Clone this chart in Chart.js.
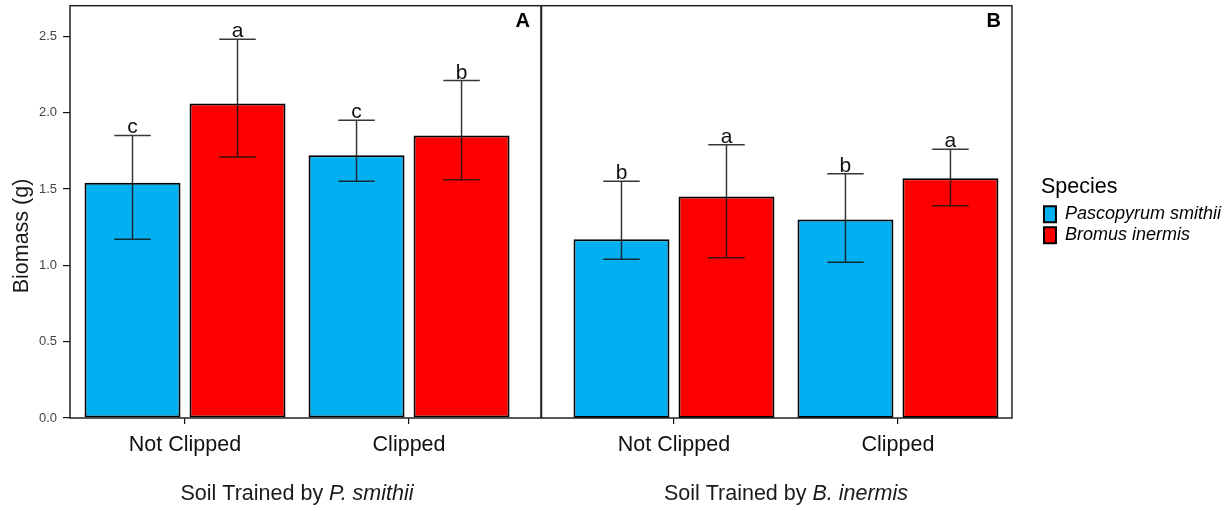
<!DOCTYPE html>
<html>
<head>
<meta charset="utf-8">
<title>Biomass by soil training</title>
<script src="https://cdn.jsdelivr.net/npm/chart.js@4.4.1/dist/chart.umd.min.js"></script>
<style>
  body { margin: 0; background: #fff; }
  #wrap { position: relative; width: 1231px; height: 511px; overflow: hidden; }
  #wrap canvas { position: absolute; top: 0; }
  #chartA { left: 0; }
  #chartB { left: 540px; }
</style>
</head>
<body>
<div id="wrap">
  <canvas id="chartA" width="542" height="511"></canvas>
  <canvas id="chartB" width="691" height="511"></canvas>
</div>
<script>
// ---- data ----
const categories = ['Not Clipped', 'Clipped'];
const speciesNames = ['Pascopyrum smithii', 'Bromus inermis'];
const speciesColors = ['#00B0F0', '#FF0000'];
const yTicks = [0, 0.5, 1.0, 1.5, 2.0, 2.5];
const yMax = 2.7;

// panel A: soil trained by P. smithii
const aSmithiiMean = [1.54, 1.72];
const aSmithiiHigh = [1.85, 1.95];
const aSmithiiLow = [1.17, 1.55];
const aSmithiiLetters = ['c', 'c'];
const aBromusMean = [2.06, 1.85];
const aBromusHigh = [2.48, 2.21];
const aBromusLow = [1.71, 1.56];
const aBromusLetters = ['a', 'b'];

// panel B: soil trained by B. inermis
const bSmithiiMean = [1.17, 1.30];
const bSmithiiHigh = [1.55, 1.60];
const bSmithiiLow = [1.04, 1.02];
const bSmithiiLetters = ['b', 'b'];
const bBromusMean = [1.45, 1.57];
const bBromusHigh = [1.79, 1.76];
const bBromusLow = [1.05, 1.39];
const bBromusLetters = ['a', 'a'];

const FONT = '"Liberation Sans", Arial, Helvetica, sans-serif';
Chart.defaults.font.family = FONT;

const panels = {
  chartA: {
    tag: 'A', soil: 'Soil Trained by ', soilItalic: 'P. smithii', yTitle: 'Biomass (g)',
    series: [
      { mean: aSmithiiMean, high: aSmithiiHigh, low: aSmithiiLow, letters: aSmithiiLetters },
      { mean: aBromusMean, high: aBromusHigh, low: aBromusLow, letters: aBromusLetters }
    ]
  },
  chartB: {
    tag: 'B', soil: 'Soil Trained by ', soilItalic: 'B. inermis', yTitle: null,
    series: [
      { mean: bSmithiiMean, high: bSmithiiHigh, low: bSmithiiLow, letters: bSmithiiLetters },
      { mean: bBromusMean, high: bBromusHigh, low: bBromusLow, letters: bBromusLetters }
    ]
  }
};

// error bars, letters, panel frame, tag and titles
const panelDeco = {
  id: 'panelDeco',
  afterDatasetsDraw(chart) {
    const p = panels[chart.canvas.id];
    const ctx = chart.ctx;
    const area = chart.chartArea;
    const ys = chart.scales.y;
    ctx.save();
    p.series.forEach((s, k) => {
      const meta = chart.getDatasetMeta(k);
      meta.data.forEach((bar, j) => {
        const cx = bar.x;
        const yHi = ys.getPixelForValue(s.high[j]);
        const yLo = ys.getPixelForValue(s.low[j]);
        const half = bar.width * 0.19;
        ctx.strokeStyle = 'rgba(20,20,20,0.85)';
        ctx.lineWidth = 1.5;
        ctx.beginPath();
        ctx.moveTo(cx, yHi); ctx.lineTo(cx, yLo);
        ctx.moveTo(cx - half, yHi); ctx.lineTo(cx + half, yHi);
        ctx.moveTo(cx - half, yLo); ctx.lineTo(cx + half, yLo);
        ctx.stroke();
        ctx.fillStyle = '#111';
        ctx.font = '21px ' + FONT;
        ctx.textAlign = 'center';
        ctx.textBaseline = 'alphabetic';
        ctx.fillText(s.letters[j], cx, yHi - 2);
      });
    });
    // frame
    ctx.strokeStyle = '#222';
    ctx.lineWidth = 1.5;
    ctx.strokeRect(area.left, area.top, area.right - area.left, area.bottom - area.top);
    // panel tag
    ctx.fillStyle = '#000';
    ctx.font = 'bold 20px ' + FONT;
    ctx.textAlign = 'right';
    ctx.fillText(p.tag, area.right - 11, area.top + 21.5);
    ctx.restore();
  },
  afterDraw(chart) {
    const p = panels[chart.canvas.id];
    const ctx = chart.ctx;
    const xs = chart.scales.x;
    const mid = (xs.getPixelForValue(1) + xs.getPixelForValue(categories.length)) / 2;
    const ty = chart.chartArea.bottom + 76;
    ctx.save();
    ctx.fillStyle = '#1a1a1a';
    ctx.textBaseline = 'middle';
    ctx.textAlign = 'left';
    const normal = '21.5px ' + FONT;
    const italic = 'italic 21.5px ' + FONT;
    ctx.font = normal;
    const w1 = ctx.measureText(p.soil).width;
    ctx.font = italic;
    const w2 = ctx.measureText(p.soilItalic).width;
    const x0 = mid - (w1 + w2) / 2;
    ctx.font = normal;
    ctx.fillText(p.soil, x0, ty);
    ctx.font = italic;
    ctx.fillText(p.soilItalic, x0 + w1, ty);
    if (p.yTitle) {
      ctx.translate(22, 236);
      ctx.rotate(-Math.PI / 2);
      ctx.font = normal;
      ctx.textAlign = 'center';
      ctx.fillText(p.yTitle, 0, 0);
    }
    ctx.restore();
  }
};

function makePanel(id, xMin, xMax, isFirst) {
  const p = panels[id];
  // panel B keeps the same y range but hides the axis; its width only spaces the legend
  const yScale = isFirst ? {
    min: 0, max: yMax, bounds: 'data',
    afterBuildTicks: s => { s.ticks = yTicks.map(v => ({ value: v })); },
    afterFit: s => { s.width = 70; s.paddingTop = 0; s.paddingBottom = 0; },
    grid: { drawOnChartArea: false, tickLength: 7, color: '#111', lineWidth: 1.2 },
    border: { display: false },
    ticks: { callback: v => v.toFixed(1), font: { size: 13 }, color: '#444', padding: 6 }
  } : {
    display: false, position: 'right', min: 0, max: yMax, bounds: 'data',
    afterFit: s => { s.width = 29; }
  };

  return new Chart(document.getElementById(id), {
    type: 'bar',
    data: {
      datasets: speciesNames.map((name, k) => ({
        label: name,
        data: categories.map((c, i) => ({ x: i + 1, y: p.series[k].mean[i] })),
        backgroundColor: speciesColors[k],
        borderColor: '#000',
        borderWidth: 2,
        borderSkipped: false,
        barPercentage: 0.914,
        categoryPercentage: 0.9375
      }))
    },
    options: {
      responsive: false,
      animation: false,
      events: [],
      layout: { padding: { left: isFirst ? 0 : 1.5, right: isFirst ? 1 : 0, top: 5.7, bottom: 55 } },
      scales: {
        x: {
          type: 'linear', min: xMin, max: xMax, bounds: 'data', offset: false,
          afterBuildTicks: s => { s.ticks = categories.map((c, i) => ({ value: i + 1 })); },
          afterFit: s => { s.height = 38; },
          grid: { offset: false, drawOnChartArea: false, tickLength: 6, color: '#111', lineWidth: 1.2 },
          border: { display: false },
          ticks: {
            callback: v => categories[v - 1] || '',
            font: { size: 21.5 }, color: '#111', padding: 8,
            maxRotation: 0, autoSkip: false
          }
        },
        y: yScale
      },
      plugins: {
        tooltip: { enabled: false },
        legend: isFirst ? { display: false } : {
          display: true, position: 'right', align: 'center', fullSize: false,
          title: { display: true, text: 'Species', position: 'start', color: '#000',
                   font: { size: 21.5 }, padding: { top: 0, bottom: 0 } },
          labels: { boxWidth: 12, boxHeight: 16, padding: 3, color: '#000',
                    font: { size: 18, style: 'italic' } }
        }
      }
    },
    plugins: [panelDeco]
  });
}

makePanel('chartA', 0.4866, 2.589, true);
makePanel('chartB', 0.4085, 2.509, false);
</script>
</body>
</html>
